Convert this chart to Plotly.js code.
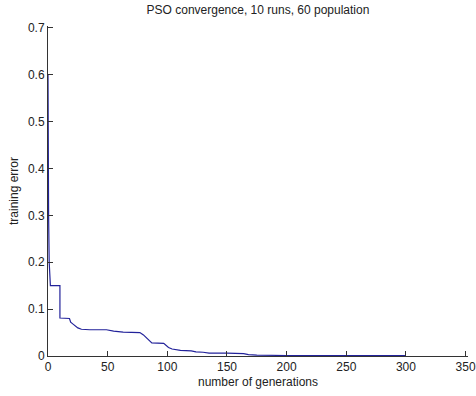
<!DOCTYPE html>
<html>
<head>
<meta charset="utf-8">
<script src="https://cdn.plot.ly/plotly-3.0.1.min.js"></script>
<style>
html,body{margin:0;padding:0;background:#fff;}
#chart{width:476px;height:396px;}
</style>
</head>
<body>
<div id="chart"></div>
<script>
// generation index and best training error
const generations = [0, 0, 0.5, 1, 1.5, 2, 10, 10, 18, 19, 21, 23, 25, 28, 35, 49, 55, 63, 77, 80, 84, 87, 97, 99, 101, 104, 108, 111, 120, 124, 130, 135, 150, 164, 168, 175, 200, 250, 300];
const trainingError = [0.6, 0.4, 0.3, 0.2, 0.152, 0.15, 0.15, 0.081, 0.08, 0.072, 0.068, 0.063, 0.06, 0.057, 0.056, 0.056, 0.053, 0.051, 0.05, 0.045, 0.035, 0.028, 0.027, 0.022, 0.018, 0.015, 0.013, 0.012, 0.011, 0.009, 0.008, 0.006, 0.006, 0.005, 0.003, 0.002, 0.001, 0.001, 0.001];
const xTicks = [0, 50, 100, 150, 200, 250, 300, 350];
const yTicks = [0, 0.1, 0.2, 0.3, 0.4, 0.5, 0.6, 0.7];
const yTickText = ['0', '0.1', '0.2', '0.3', '0.4', '0.5', '0.6', '0.7'];

const font = {family: 'Liberation Sans, Arial, sans-serif', size: 12, color: '#222'};

Plotly.newPlot('chart', [{
  x: generations,
  y: trainingError,
  type: 'scatter',
  mode: 'lines',
  line: {color: '#22229a', width: 1.2},
  hoverinfo: 'skip'
}], {
  width: 476, height: 396,
  margin: {l: 48, r: 8, t: 26, b: 40, pad: 0},
  paper_bgcolor: '#fff', plot_bgcolor: '#fff',
  font: font,
  showlegend: false,
  title: {text: 'PSO convergence, 10 runs, 60 population', font: font, x: 0.542, xanchor: 'center', y: 0.975, yanchor: 'middle'},
  xaxis: {
    range: [0, 352], tickvals: xTicks, ticktext: xTicks.map(String),
    ticks: 'inside', ticklen: 5, tickcolor: '#333', tickwidth: 1,
    showline: true, linecolor: '#333', linewidth: 1, mirror: false,
    showgrid: false, zeroline: false,
    tickfont: font, automargin: false, ticklabeloverflow: 'allow',
    title: {text: 'number of generations', font: font, standoff: 4}
  },
  yaxis: {
    range: [0, 0.704], tickvals: yTicks, ticktext: yTickText,
    ticks: 'inside', ticklen: 5, tickcolor: '#333', tickwidth: 1,
    showline: true, linecolor: '#333', linewidth: 1, mirror: false,
    showgrid: false, zeroline: false,
    tickfont: font, automargin: false, ticklabeloverflow: 'allow',
    title: {text: 'training error', font: font, standoff: 6}
  }
}, {staticPlot: true, displayModeBar: false});
</script>
</body>
</html>
